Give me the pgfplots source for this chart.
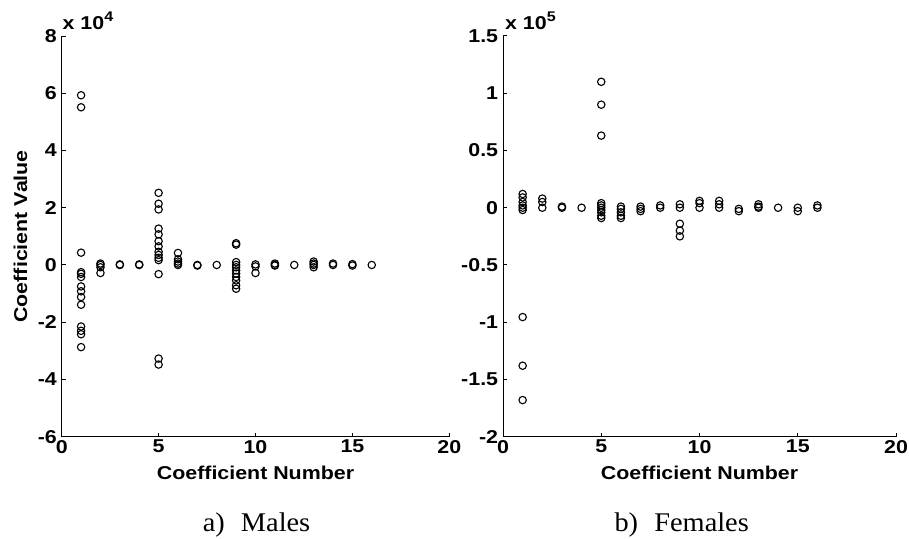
\documentclass[border=0pt]{standalone}
\usepackage{pgfplots}
\pgfplotsset{compat=1.18}
\usepackage{fontspec}
\setmainfont{Liberation Serif}
\newfontfamily\hv{Liberation Sans}[FakeStretch=1.15]
\newfontfamily\tm{Liberation Serif}[FakeStretch=1.05]
\newcommand{\hvfont}{\hv\bfseries\fontsize{18.6}{20}\selectfont}

\pgfplotstableread{
x y
1 5.93
1 5.51
1 0.43
1 -0.25
1 -0.31
1 -0.42
1 -0.75
1 -0.92
1 -1.12
1 -1.39
1 -2.15
1 -2.30
1 -2.42
1 -2.87
2 0.05
2 0
2 -0.08
2 -0.28
3 0
3 0.02
4 0
4 0.02
5 2.52
5 2.14
5 1.94
5 1.27
5 1.07
5 0.83
5 0.65
5 0.46
5 0.35
5 0.25
5 0.17
5 -0.32
5 -3.27
5 -3.48
6 0.42
6 0.20
6 0.12
6 0.05
6 0
7 0
7 -0.02
8 0
9 0.76
9 0.71
9 0.10
9 0
9 -0.08
9 -0.19
9 -0.30
9 -0.42
9 -0.54
9 -0.71
9 -0.83
10 0.02
10 -0.05
10 -0.28
11 0.05
11 0
11 -0.02
12 0
13 0.12
13 0.05
13 0
13 -0.08
14 0.05
14 0
15 0.03
15 -0.02
16 0
}\males

\pgfplotstableread{
x y
1 0.12
1 0.09
1 0.05
1 0.02
1 0
1 -0.02
1 -0.955
1 -1.38
1 -1.68
2 0.08
2 0.05
2 0
3 0.01
3 0
4 0
5 1.10
5 0.90
5 0.63
5 0.04
5 0.02
5 0
5 -0.02
5 -0.04
5 -0.07
5 -0.09
6 0.01
6 -0.01
6 -0.04
6 -0.07
6 -0.09
7 0.01
7 -0.01
7 -0.03
8 0.02
8 0
9 0.03
9 0
9 -0.14
9 -0.20
9 -0.25
10 0.06
10 0.04
10 0
11 0.06
11 0.03
11 0
12 -0.01
12 -0.03
13 0.03
13 0.01
13 0
14 0
15 0
15 -0.03
16 0.02
16 0
}\females

\pgfplotsset{
  common/.style={
    anchor=south west,
    scale only axis,
    height=400.7pt,
    axis x line*=bottom,
    axis y line*=left,
    axis line style={-, line width=1pt, black},
    tick align=inside,
    major tick length=4pt,
    tick style={line width=1pt, black},
    xmin=0, xmax=20,
    xtick={0,5,10,15,20},
    xticklabels={0,5,10,15,20},
    ticklabel style={font=\hvfont},
    xticklabel style={inner sep=0pt, anchor=north, yshift=-3.3pt},
    yticklabel style={inner sep=0pt, anchor=east, xshift=-4.7pt},
    label style={font=\hvfont},
    xlabel={Coefficient Number},
    xlabel style={at={(axis description cs:0.5,-0.108)}, anchor=base, inner sep=0pt},
    clip=false,
  },
  pts/.style={only marks, mark=o, mark size=3.7pt, mark options={line width=1.1pt, black}},
}

\begin{document}
\begin{tikzpicture}[x=1pt,y=1pt]
\begin{axis}[common,
  at={(61.7pt,101.3pt)}, width=387.6pt,
  ymin=-6, ymax=8,
  ytick={-6,-4,-2,0,2,4,6,8},
  yticklabels={-6,-4,-2,0,2,4,6,8},
  ylabel={Coefficient Value},
  ylabel style={at={(axis description cs:-0.0885,0.5)}, anchor=south, inner sep=0pt},
]
\addplot[pts] table[x=x,y=y] {\males};
\node[anchor=base west, inner sep=0pt, font=\hvfont] at (axis description cs:0.002,1.015) {x 10\raisebox{8pt}{\hv\bfseries\fontsize{14}{14}\selectfont 4}};
\end{axis}
\begin{axis}[common,
  at={(503pt,101.3pt)}, width=393pt,
  ymin=-2, ymax=1.5,
  ytick={-2,-1.5,-1,-0.5,0,0.5,1,1.5},
  yticklabels={-2,-1.5,-1,-0.5,0,0.5,1,1.5},
]
\addplot[pts] table[x=x,y=y] {\females};
\node[anchor=base west, inner sep=0pt, font=\hvfont] at (axis description cs:0.005,1.015) {x 10\raisebox{8pt}{\hv\bfseries\fontsize{14}{14}\selectfont 5}};
\end{axis}
\node[anchor=base, inner sep=0pt, font=\tm\fontsize{27}{30}\selectfont] at (256.5pt,6.3pt) {a)\hspace{0.6em}Males};
\node[anchor=base, inner sep=0pt, font=\tm\fontsize{27}{30}\selectfont] at (681.7pt,6.3pt) {b)\hspace{0.6em}Females};
\pgfresetboundingbox
\useasboundingbox (0pt,0pt) rectangle (909pt,538pt);
\end{tikzpicture}
\end{document}
